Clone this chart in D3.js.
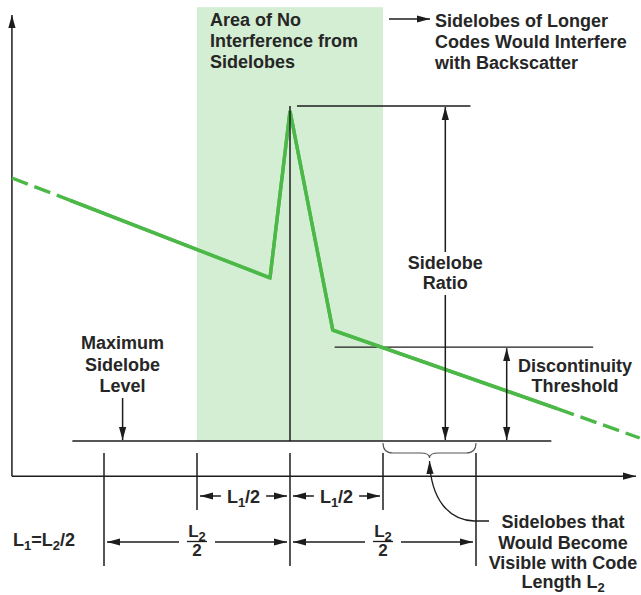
<!DOCTYPE html>
<html>
<head>
<meta charset="UTF-8">
<title></title>
<script src="https://cdn.jsdelivr.net/npm/d3@7"></script>
<style>
body{margin:0;background:#fff;}
text{font-family:"Liberation Sans",Arial,sans-serif;font-weight:bold;fill:#262626;font-size:18px;}
</style>
</head>
<body>
<svg width="641" height="595"></svg>
<script>
// code positions, in units of L1/2 measured from the main peak
var codeTicks = [-2, -1, 0, 1, 2];
var longTicks = [-2, 0, 2];
// backscatter profile: position (L1/2 units) and level (arbitrary units)
var profileX = [-2.99, -2.37, -0.215, 0, 0.46, 2.88, 3.76];
var profileY = [7.85, 7.19, 4.87, 9.85, 3.31, 0.96, 0.09];
var profileDashed = [true, false, false, false, false, true];
// reference levels
var levelNames = ["Maximum Sidelobe Level", "Discontinuity Threshold", "Peak"];
var levelValues = [0, 2.8, 10];
var axisLevel = -1.05;

var svg = d3.select("svg");
var x = d3.scaleLinear().domain([-2, 2]).range([104, 476]);
var y = d3.scaleLinear().domain([0, 10]).range([441, 106]);
var green = "#4cb847", ink = "#1c1c1c";

var defs = svg.append("defs");
defs.append("marker")
    .attr("id", "arr")
    .attr("viewBox", "0 -5 13 10")
    .attr("refX", 13).attr("refY", 0)
    .attr("markerWidth", 13).attr("markerHeight", 10)
    .attr("markerUnits", "userSpaceOnUse")
    .attr("orient", "auto-start-reverse")
    .append("path").attr("d", "M0,-3.6L13,0L0,3.6Z").attr("fill", ink);

// shaded area of no interference
svg.append("rect")
    .attr("x", x(-1)).attr("y", y(12.95))
    .attr("width", x(1) - x(-1)).attr("height", y(0) - y(12.95))
    .attr("fill", "#d4eed3");

function line(x1, y1, x2, y2, w) {
    return svg.append("line")
        .attr("x1", x1).attr("y1", y1).attr("x2", x2).attr("y2", y2)
        .attr("stroke", ink).attr("stroke-width", w || 1.5);
}

// axes
var xMin = x(-2.99);
line(xMin, y(axisLevel), xMin, 15).attr("marker-end", "url(#arr)");
line(xMin, y(axisLevel), 636, y(axisLevel)).attr("marker-end", "url(#arr)");

// reference level lines
var levelExtent = [[-2.34, 2.81], [0.48, 3.26], [0.075, 1.94]];
svg.selectAll("line.level")
    .data(levelValues)
    .enter().append("line")
    .attr("class", "level")
    .attr("x1", function(d, i){ return x(levelExtent[i][0]); })
    .attr("x2", function(d, i){ return x(levelExtent[i][1]); })
    .attr("y1", function(d){ return y(d); })
    .attr("y2", function(d){ return y(d); })
    .attr("stroke", ink).attr("stroke-width", 1.3);

// backscatter profile, segment by segment
var segs = profileDashed.map(function(dash, i){
    return {dash: dash, pts: [[profileX[i], profileY[i]], [profileX[i+1], profileY[i+1]]]};
});
var lineGen = d3.line().x(function(d){ return x(d[0]); }).y(function(d){ return y(d[1]); });
svg.selectAll("path.profile")
    .data(segs)
    .enter().append("path")
    .attr("class", "profile")
    .attr("d", function(d){ return lineGen(d.pts); })
    .attr("fill", "none")
    .attr("stroke", green)
    .attr("stroke-width", 3.4)
    .attr("stroke-dasharray", function(d){ return d.dash ? "17,7" : null; });
svg.append("path")
    .attr("d", lineGen(profileX.slice(1, 6).map(function(v, i){ return [v, profileY[i+1]]; })))
    .attr("fill", "none").attr("stroke", green).attr("stroke-width", 3.4);

// main peak marker
line(x(0), y(levelValues[2]), x(0), y(0));

// ticks below the baseline
svg.selectAll("line.tick")
    .data(codeTicks)
    .enter().append("line")
    .attr("class", "tick")
    .attr("x1", function(d){ return x(d); })
    .attr("x2", function(d){ return x(d); })
    .attr("y1", 453)
    .attr("y2", function(d){ return longTicks.indexOf(d) >= 0 ? 566 : 510; })
    .attr("stroke", ink).attr("stroke-width", 1.5);

// text with subscripts: parts = [[text, isSub], ...]
function rich(px, py, parts, anchor, size) {
    var t = svg.append("text").attr("x", px).attr("y", py)
        .attr("text-anchor", anchor || "middle");
    if (size) t.style("font-size", size + "px");
    parts.forEach(function(p){
        var s = t.append("tspan").text(p[0]);
        if (p[1]) s.style("font-size", "13px").attr("dy", 4);
        else if (t.selectAll("tspan").size() > 1) s.attr("dy", -4);
    });
    return t;
}
function block(px, py, lines, anchor, lh) {
    lines.forEach(function(s, i){
        svg.append("text").attr("x", px).attr("y", py + i * (lh || 21))
            .attr("text-anchor", anchor || "middle").text(s);
    });
}

block(210, 26, ["Area of No", "Interference from", "Sidelobes"], "start", 21);
line(389, 19, 430, 19).attr("marker-end", "url(#arr)");
block(435, 27, ["Sidelobes of Longer", "Codes Would Interfere", "with Backscatter"], "start", 21);

// sidelobe ratio arrow
var xr = x(1.67);
line(xr, 252, xr, y(levelValues[2]) + 1).attr("marker-end", "url(#arr)");
line(xr, 295, xr, y(0) - 1).attr("marker-end", "url(#arr)");
block(xr, 269, ["Sidelobe", "Ratio"], "middle", 20);

// discontinuity threshold arrow
var xt = x(2.33);
line(xt, y(levelValues[1]) + 1, xt, y(0) - 1)
    .attr("marker-start", "url(#arr)").attr("marker-end", "url(#arr)");
block(575, 372, ["Discontinuity", "Threshold"], "middle", 20);

// maximum sidelobe level
var xm = x(-1.8);
block(xm, 349, ["Maximum", "Sidelobe", "Level"], "middle", 21.5);
line(xm, 398, xm, y(0) - 1).attr("marker-end", "url(#arr)");

// L1/2 spans
[[-1, 0], [0, 1]].forEach(function(s){
    var cx = (x(s[0]) + x(s[1])) / 2;
    var t = rich(cx, 503, [["L"], ["1", true], ["/2"]]);
    var w = t.node().getComputedTextLength();
    line(cx - w / 2 - 6, 496, x(s[0]) + 3, 496).attr("marker-end", "url(#arr)");
    line(cx + w / 2 + 6, 496, x(s[1]) - 3, 496).attr("marker-end", "url(#arr)");
});

// L2/2 spans
[[-2, 0], [0, 2]].forEach(function(s){
    var cx = (x(s[0]) + x(s[1])) / 2;
    rich(cx, 537, [["L"], ["2", true]], "middle", 17);
    line(cx - 10, 541.5, cx + 10, 541.5, 1.3);
    svg.append("text").attr("x", cx).attr("y", 556).attr("text-anchor", "middle")
        .style("font-size", "17px").text("2");
    line(cx - 18, 542, x(s[0]) + 3, 542).attr("marker-end", "url(#arr)");
    line(cx + 18, 542, x(s[1]) - 3, 542).attr("marker-end", "url(#arr)");
});
rich(13, 546, [["L"], ["1", true], ["=L"], ["2", true], ["/2"]], "start");

// brace over the L2 region
var b0 = x(1), b1 = x(2), bm = (b0 + b1) / 2;
svg.append("path")
    .attr("d", "M" + b0 + ",443 Q" + b0 + ",453 " + (b0 + 10) + ",453 L" + (bm - 9) + ",453 Q" + bm + ",453 " + bm + ",458" +
               " Q" + bm + ",453 " + (bm + 9) + ",453 L" + (b1 - 10) + ",453 Q" + b1 + ",453 " + b1 + ",443")
    .attr("fill", "none").attr("stroke", "#555").attr("stroke-width", 1.1);

svg.append("path")
    .attr("d", "M489,521 L474,521 C449,520 431,500 " + bm + ",461")
    .attr("fill", "none").attr("stroke", ink).attr("stroke-width", 1.3)
    .attr("marker-end", "url(#arr)");

block(563, 528, ["Sidelobes that", "Would Become", "Visible with Code"], "middle", 20.5);
rich(563, 588, [["Length L"], ["2", true]]);
</script>
</body>
</html>
